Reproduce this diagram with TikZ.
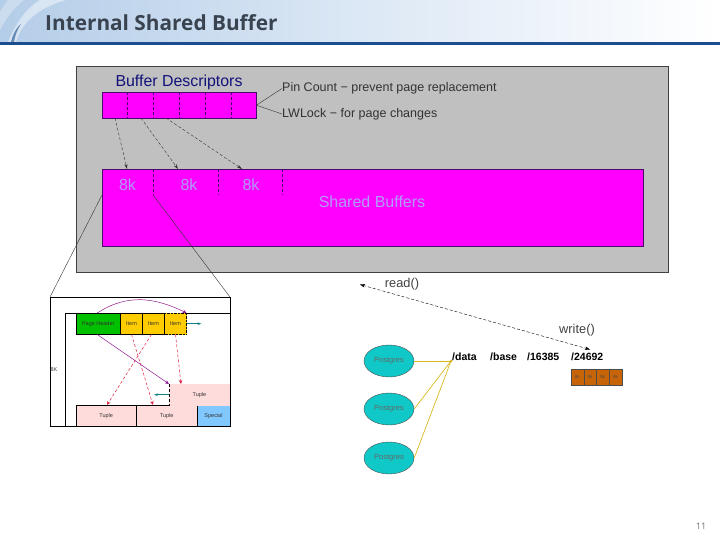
\documentclass[tikz,border=0pt]{standalone}
\usepackage{fontspec}
\setmainfont{Liberation Sans}
\newfontfamily\titlefont{Open Sans}
\usetikzlibrary{arrows.meta,shapes.geometric}
\definecolor{hdrnavy}{HTML}{1C4E8F}
\definecolor{hdrtext}{HTML}{3A4450}
\definecolor{hdrleft}{HTML}{B4CDE8}
\definecolor{hdrmid}{HTML}{DCE8F5}
\definecolor{panelgrey}{HTML}{C0C0C0}
\definecolor{bufmagenta}{HTML}{FF00FF}
\definecolor{bufviolet}{HTML}{4A0A6A}
\definecolor{labelblue}{HTML}{B09CFF}
\definecolor{descblue}{HTML}{12127A}
\definecolor{hdrgreen}{HTML}{00C000}
\definecolor{itemyellow}{HTML}{FFCC00}
\definecolor{tuplepink}{HTML}{FFDCDC}
\definecolor{specialblue}{HTML}{80C8FF}
\definecolor{redarrow}{HTML}{E02040}
\definecolor{purplearrow}{HTML}{901890}
\definecolor{tealarrow}{HTML}{108080}
\definecolor{postcyan}{HTML}{10C8C8}
\definecolor{linkyellow}{HTML}{D8B820}
\definecolor{blockbrown}{HTML}{C86408}
\begin{document}
\begin{tikzpicture}[x=1pt,y=-1pt,font=\fontsize{8pt}{9pt}\selectfont,
  bar/.style={draw=bufviolet,fill=bufmagenta,minimum width=#1,inner sep=0pt,anchor=north west},
  cell/.style={draw=black,minimum width=#1,minimum height=21.5pt,inner sep=0pt,outer sep=0pt,font=\fontsize{5.5pt}{6pt}\selectfont,text=black!80},
  tup/.style={cell=60.5pt,draw=black,fill=tuplepink,anchor=north west},
  post/.style={ellipse,draw=black!70,fill=postcyan,minimum width=50pt,minimum height=32pt,inner sep=0pt,font=\fontsize{7.5pt}{8pt}\selectfont,text=black!60},
  blk/.style={draw=black!70,fill=blockbrown,minimum width=12.7pt,minimum height=16pt,inner sep=0pt,outer sep=0pt,font=\fontsize{4.5pt}{5pt}\selectfont,text=black!70,anchor=north west},
  path/.style={font=\bfseries\fontsize{10.5pt}{12pt}\selectfont,inner sep=0pt},
  sysc/.style={font=\fontsize{12.8pt}{14pt}\selectfont,text=black!75,inner sep=0pt},
  note/.style={font=\fontsize{12.5pt}{14pt}\selectfont,text=black!80,inner sep=0pt,anchor=west},
  eightk/.style={font=\fontsize{16pt}{18pt}\selectfont,text=labelblue,inner sep=0pt},
  thin arrow/.style={-{Stealth[length=5pt,width=3pt]},black!80,line width=.4pt},
  red arrow/.style={-{Stealth[length=4pt,width=3.5pt]},redarrow,densely dashed,line width=.5pt},
  purple arrow/.style={-{Stealth[length=4pt,width=3.5pt]},purplearrow,line width=.5pt},
  teal arrow/.style={-{Stealth[length=4pt,width=2.5pt]},tealarrow,line width=.6pt},
  link/.style={linkyellow,line width=.7pt}]
  \useasboundingbox (0,0) rectangle (720,540);
  \shade[left color=hdrleft,right color=white,middle color=hdrmid] (0,0) rectangle (720,42);
  \fill[white,opacity=.45] (16,42) .. controls (22,22) and (38,8) .. (66,0) -- (40,0) .. controls (24,10) and (16,24) .. (8,42) -- cycle;
  \fill[white,opacity=.3] (0,30) .. controls (6,18) and (14,8) .. (24,0) -- (8,0) .. controls (5,4) and (2,8) .. (0,12) -- cycle;
  \fill[hdrnavy,opacity=.6] (11,42) .. controls (13,34) and (16,28) .. (21,24) .. controls (17,30) and (15,36) .. (14,42) -- cycle;
  \fill[hdrnavy] (0,42) rectangle (720,45);
  \node[anchor=west,inner sep=0pt,text=hdrtext] (title) at (45,23) {\titlefont\bfseries\fontsize{20.8pt}{24pt}\selectfont Internal Shared Buffer};
  \node[anchor=center,inner sep=0pt,text=black!55] (pageno) at (701,526) {\titlefont\fontsize{9pt}{10pt}\selectfont 11};

  \node[draw=black!75,fill=panelgrey,minimum width=592pt,minimum height=206pt,inner sep=0pt,anchor=north west] (panel) at (76,66) {};
  \node[text=descblue,inner sep=0pt,font=\fontsize{15.9pt}{18pt}\selectfont] (desctitle) at (179,82) {Buffer Descriptors};
  \node[bar=154pt,minimum height=26pt] (desc) at (102,92) {};
  \foreach \i in {127,153,179,205,231}
    \draw[bufviolet,densely dashed] (\i,92) -- (\i,118);
  \node[note] (pin) at (282,88.5) {Pin Count − prevent page replacement};
  \node[note] (lock) at (282,114) {LWLock − for page changes};
  \draw[black!80,line width=.4pt] (desc.east) -- (pin.west);
  \draw[black!80,line width=.4pt] (desc.east) -- (lock.west);

  \node[bar=541pt,minimum height=77pt] (shared) at (102,169) {};
  \foreach \i in {153,218,282}
    \draw[bufviolet,densely dashed] (\i,169) -- (\i,195);
  \draw[bufviolet,densely dashed] (102,169) -- (282,169);
  \node[eightk] (k1) at (127.5,184.5) {8k};
  \node[eightk] (k2) at (189,184.5) {8k};
  \node[eightk] (k3) at (251,184.5) {8k};
  \node[eightk] (sharedlabel) at (372,202) {Shared Buffers};
  \coordinate (d1) at (115,118);
  \coordinate (d2) at (141,118);
  \coordinate (d3) at (166,118);
  \coordinate (s1) at (127,169);
  \coordinate (s2) at (178,169);
  \coordinate (s3) at (242,169);
  \draw[thin arrow,densely dashed] (d1) -- (s1);
  \draw[thin arrow,densely dashed] (d2) -- (s2);
  \draw[thin arrow,densely dashed] (d3) -- (s3);

  \node[draw=black,fill=white,minimum width=180pt,minimum height=129pt,inner sep=0pt,outer sep=0pt,anchor=north west] (page) at (50,297) {};
  \coordinate (z1) at (102,195);
  \coordinate (z2) at (153,195);
  \draw[black!80,line width=.4pt] (z1) -- (page.north west);
  \draw[black!80,line width=.4pt] (z2) -- (page.north east);
  \draw[black] (76,313) -- (65,313) -- (65,426);
  \draw[black] (76,313) -- (230,313);
  \node[inner sep=0pt,font=\fontsize{5.5pt}{6pt}\selectfont,text=black!75] (eightk) at (54,370) {8K};
  \node[cell=44.5pt,fill=hdrgreen,anchor=north west] (phdr) at (76,313) {Page Header};
  \node[cell=22pt,fill=itemyellow,anchor=north west] (it1) at (phdr.north east) {Item};
  \node[cell=22pt,fill=itemyellow,anchor=north west] (it2) at (it1.north east) {Item};
  \node[cell=22pt,fill=itemyellow,densely dotted,anchor=north west] (it3) at (it2.north east) {Item};
  \node[tup] (t1) at (76,405) {Tuple};
  \node[tup] (t2) at (t1.north east) {Tuple};
  \node[cell=33pt,fill=specialblue,anchor=north west] (special) at (t2.north east) {Special};
  \node[cell=61pt,draw=none,fill=tuplepink,anchor=north west] (t3) at (169,384) {Tuple};
  \draw[black,densely dashed] (t3.north west) -- (t3.south west);
  \draw[red arrow] (it3.south west) ++(11,0) -- ([xshift=12pt]t3.north west);
  \draw[red arrow] (it1.south) -- ([xshift=16.5pt]t2.north west);
  \draw[red arrow] (it2.south) ++(-2,0) -- ([xshift=31pt]t1.north west);
  \draw[purple arrow] (phdr.south) ++(-1,0) -- (t3.north west);
  \draw[purple arrow] (phdr.north) ++(-1,0) .. controls (128,293) and (156,298) .. (it3.north east);
  \draw[teal arrow] (it3.east) -- ++(15,0);
  \draw[teal arrow] (t3.west) -- ++(-15,0);

  \node[post] (post1) at (389,361) {Postgres};
  \node[post] (post2) at (389,409) {Postgres};
  \node[post] (post3) at (389,458) {Postgres};
  \node[path,anchor=west] (pdata) at (452,357) {/data};
  \node[path,anchor=west] (pbase) at (490,357) {/base};
  \node[path,anchor=west] (pdb) at (527,357) {/16385};
  \node[path,anchor=west] (prel) at (571,357) {/24692};
  \coordinate (hub) at (451,361);
  \draw[link,line width=1pt] (post1.east) -- (hub);
  \draw[link] (post2.east) -- (hub);
  \draw[link] (post3.east) -- (hub);
  \fill[linkyellow] (hub) circle (1.5pt);
  \node[blk] (b1) at (571,369) {8k};
  \node[blk] (b2) at (b1.north east) {8k};
  \node[blk] (b3) at (b2.north east) {8k};
  \node[blk] (b4) at (b3.north east) {8k};
  \node[sysc] (readlbl) at (402,284) {read()};
  \node[sysc] (writelbl) at (577,330) {write()};
  \coordinate (rd) at (360,284.5);
  \coordinate (wr) at (590,349.5);
  \draw[{Stealth[length=5pt,width=3.5pt]}-{Stealth[length=5pt,width=3.5pt]},black,densely dashed,line width=.4pt] (rd) -- (wr);
\end{tikzpicture}
\end{document}
